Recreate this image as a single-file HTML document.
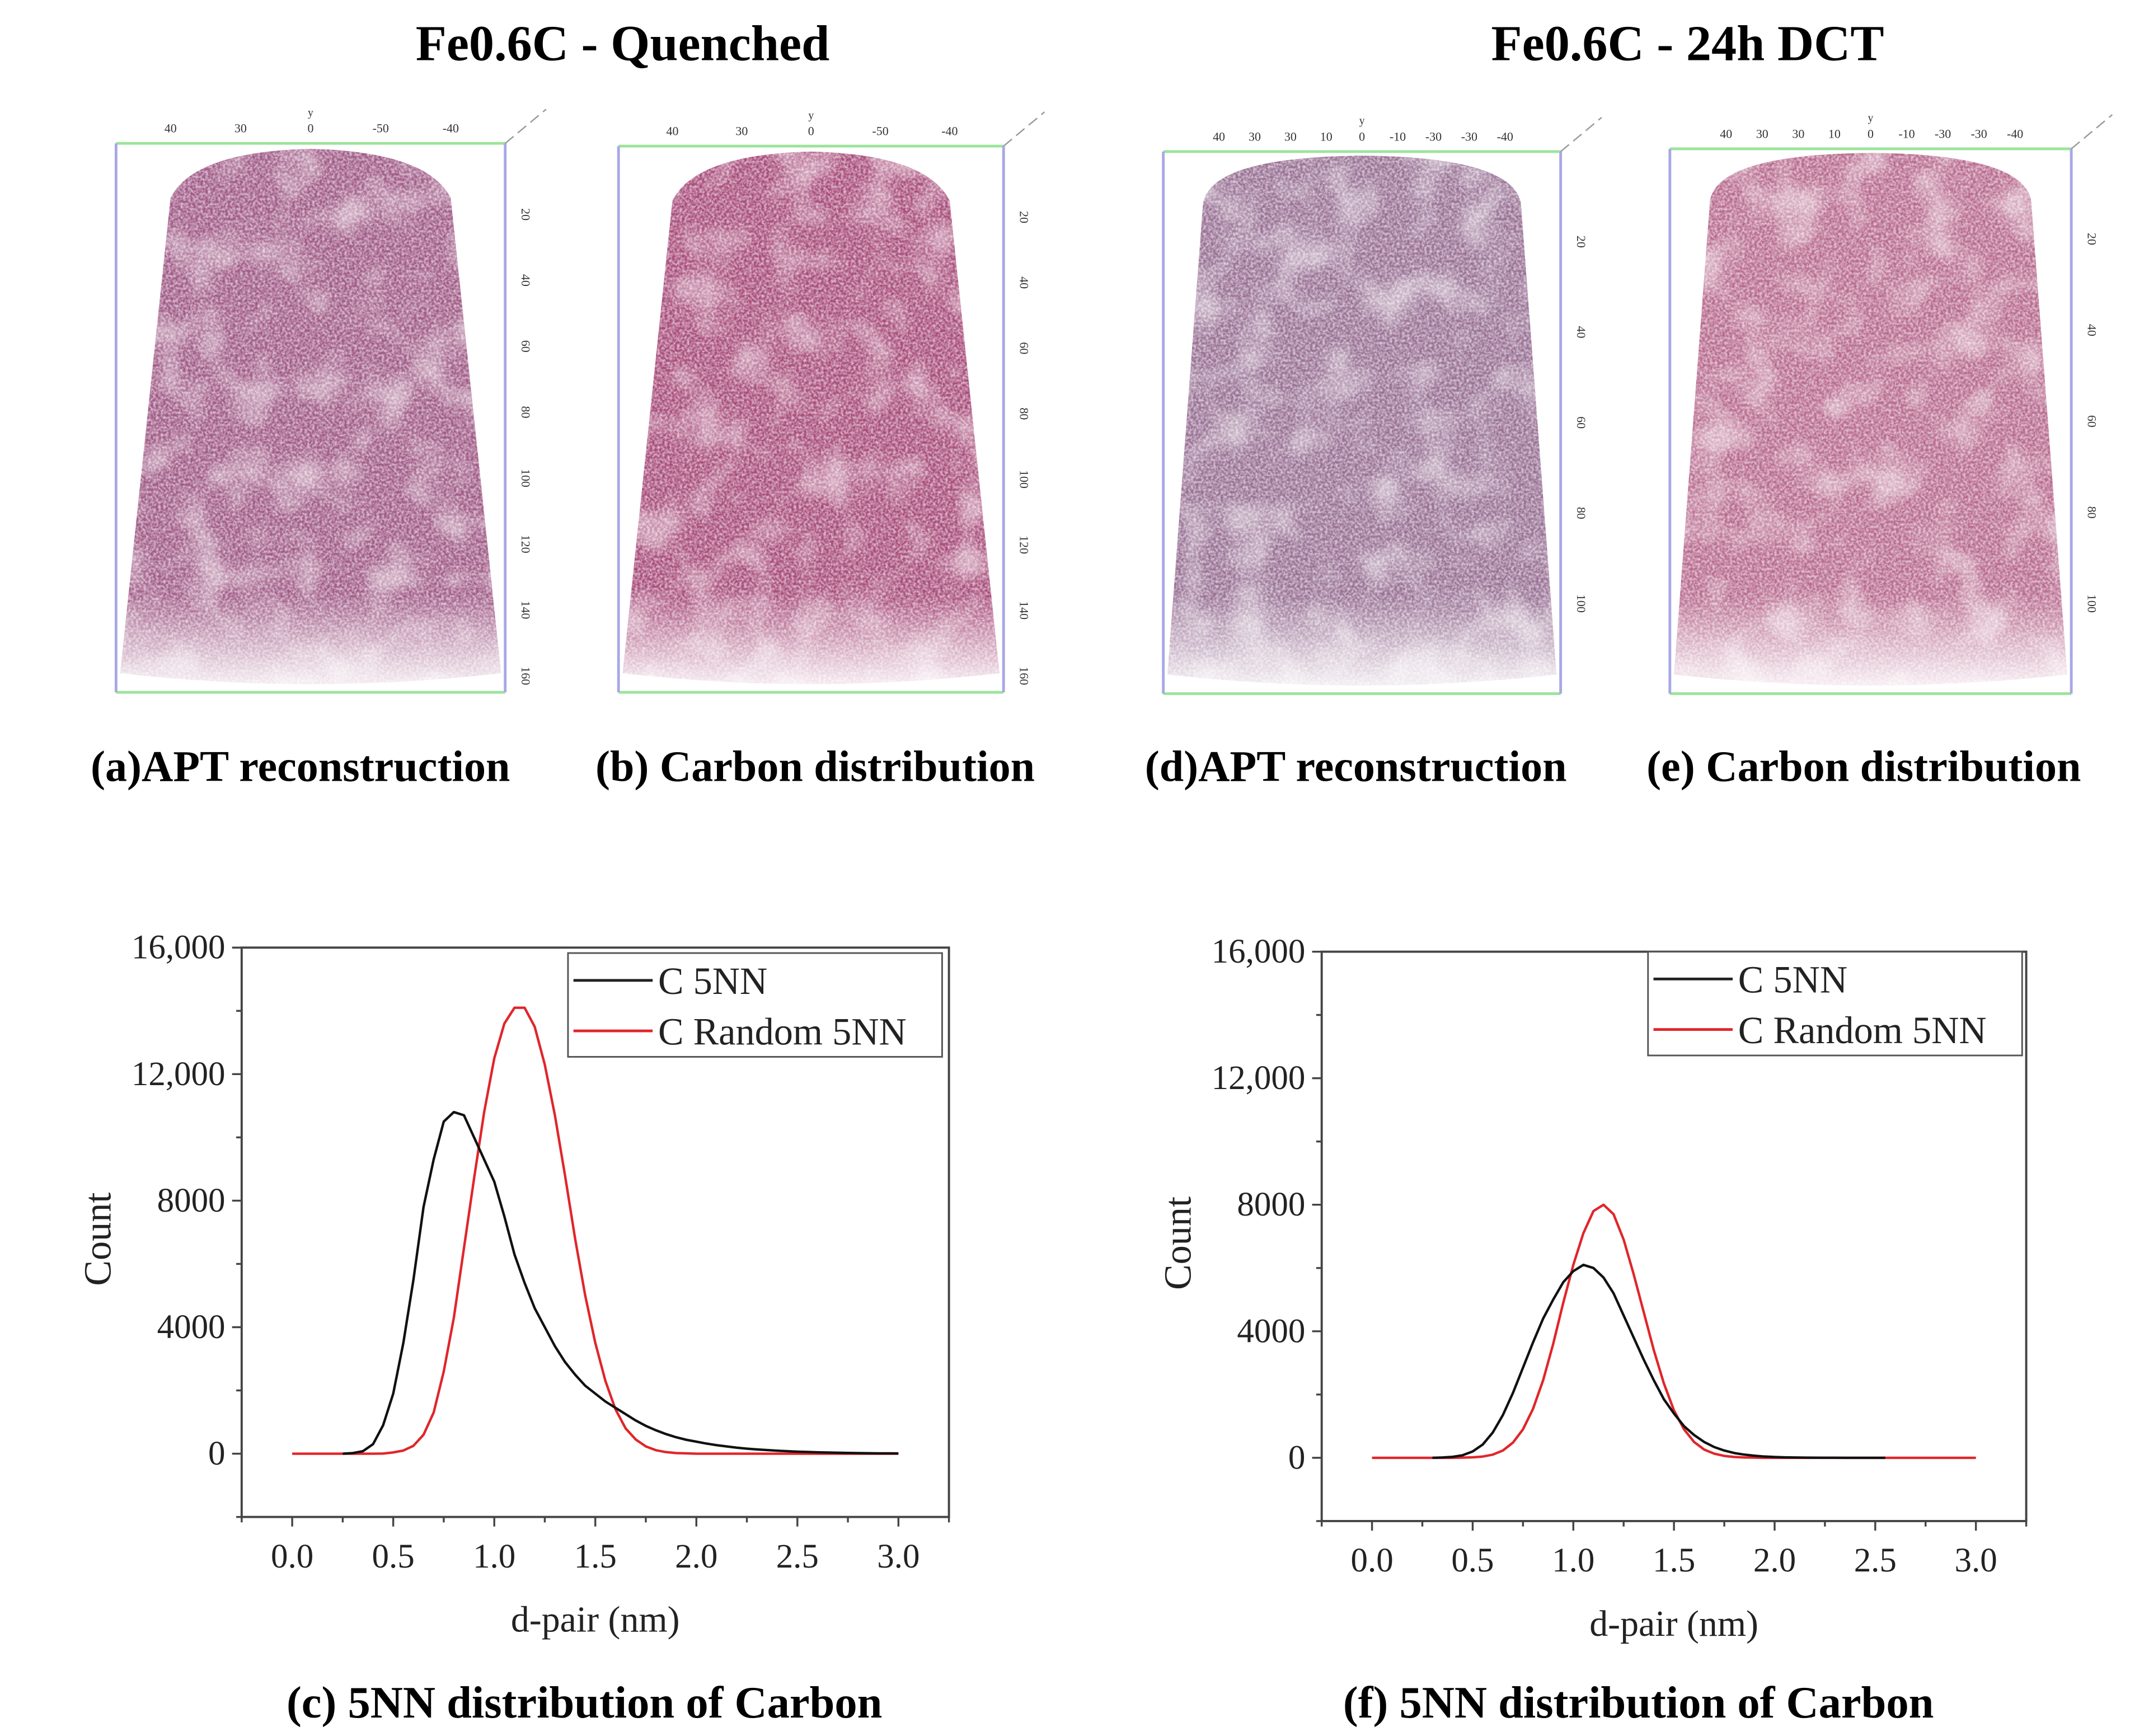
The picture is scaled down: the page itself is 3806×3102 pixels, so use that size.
<!DOCTYPE html>
<html><head><meta charset="utf-8">
<style>
html,body{margin:0;padding:0;background:#fff;}
svg{display:block;}
text{font-family:"Liberation Serif",serif;}
</style></head>
<body>
<svg id="root" xmlns="http://www.w3.org/2000/svg" width="3806" height="3102" viewBox="0 0 1560 1271.4">
<defs>
  <filter id="speck" x="0" y="0" width="100%" height="100%">
    <feTurbulence type="fractalNoise" baseFrequency="0.55" numOctaves="2" seed="3" result="n"/>
    <feColorMatrix in="n" type="matrix" values="0 0 0 0 1  0 0 0 0 1  0 0 0 0 1  0 0 0 -2.2 1.5" result="w"/>
    <feComposite in="w" in2="SourceGraphic" operator="in"/>
  </filter>
  <filter id="blotch" x="0" y="0" width="100%" height="100%">
    <feTurbulence type="fractalNoise" baseFrequency="0.03" numOctaves="2" seed="7" result="n"/>
    <feColorMatrix in="n" type="matrix" values="0 0 0 0 1  0 0 0 0 1  0 0 0 0 1  0 0 0 -3 1.6" result="w"/>
    <feComposite in="w" in2="SourceGraphic" operator="in"/>
  </filter>
  <linearGradient id="fadeA" x1="0" y1="0" x2="0" y2="1">
    <stop offset="0.82" stop-color="#fff" stop-opacity="0"/>
    <stop offset="0.98" stop-color="#fff" stop-opacity="0.85"/>
  </linearGradient>
</defs>

<g id="apt"></g>
<g id="charts"></g>

<text x="456" y="44" text-anchor="middle" font-size="37" font-weight="bold">Fe0.6C - Quenched</text>
<text x="1236" y="44" text-anchor="middle" font-size="37" font-weight="bold">Fe0.6C - 24h DCT</text>

<text x="220" y="572" text-anchor="middle" font-size="32" font-weight="bold">(a)APT reconstruction</text>
<text x="597" y="572" text-anchor="middle" font-size="32" font-weight="bold">(b) Carbon distribution</text>
<text x="993" y="572" text-anchor="middle" font-size="32" font-weight="bold">(d)APT reconstruction</text>
<text x="1365" y="572" text-anchor="middle" font-size="32" font-weight="bold">(e) Carbon distribution</text>
<text x="428" y="1258" text-anchor="middle" font-size="33" font-weight="bold">(c)  5NN distribution of Carbon</text>
<text x="1200" y="1258" text-anchor="middle" font-size="33" font-weight="bold">(f)  5NN distribution of Carbon</text>
</svg>

<script>
// ---------- Chart data ----------
const xStep = 0.05;
const cBlackStart = 0.25;
const cBlack = [0,20,80,300,900,1900,3500,5500,7800,9300,10500,10800,10700,10000,9300,8600,7500,6300,5400,4600,4000,3400,2900,2500,2150,1900,1650,1450,1250,1050,880,740,620,520,440,380,320,270,230,190,160,135,115,95,80,65,55,45,38,30,25,20,15,12,10,8];
const cRedStart = 0.0;
const cRed = [0,0,0,0,0,0,0,0,0,5,40,100,250,600,1300,2600,4300,6500,8700,10800,12500,13600,14100,14100,13500,12300,10700,8800,6800,5000,3500,2300,1400,800,450,230,110,50,20,10,0,0,0,0,0,0,0,0,0,0,0,0,0,0,0,0,0,0,0,0,0];
const fBlackStart = 0.3;
const fBlack = [0,10,30,80,200,420,800,1350,2050,2850,3650,4400,5000,5550,5900,6100,6000,5700,5200,4500,3800,3100,2450,1850,1400,1000,720,500,340,230,150,100,65,40,25,15,10,5,3,2,1,0,0,0,0,0];
const fRedStart = 0.0;
const fRed = [0,0,0,0,0,0,0,0,0,5,15,40,100,230,480,900,1550,2450,3600,4900,6100,7100,7800,8000,7700,6900,5800,4600,3400,2350,1500,900,500,260,130,60,25,10,5,0,0,0,0,0,0,0,0,0,0,0,0,0,0,0,0,0,0,0,0,0,0];
const yTicks = [0,4000,8000,12000,16000];
const yTickLabels = ["0","4000","8000","12,000","16,000"];
const xTicks = [0,0.5,1,1.5,2,2.5,3];
const xTickLabels = ["0.0","0.5","1.0","1.5","2.0","2.5","3.0"];
const legendLabels = ["C 5NN","C Random 5NN"];

const NS = "http://www.w3.org/2000/svg";
function mk(tag, attrs, parent){ const e=document.createElementNS(NS,tag); for(const k in attrs) e.setAttribute(k,attrs[k]); parent.appendChild(e); return e; }

function drawChart(g, L, R, T, B, series, legend, id){
  const xmin=-0.25, xmax=3.25, ymin=-2000, ymax=16000;
  const X = v => L + (v - xmin)/(xmax - xmin)*(R - L);
  const Y = v => B - (v - ymin)/(ymax - ymin)*(B - T);
  const frame = mk('rect',{x:L,y:T,width:R-L,height:B-T,fill:'none',stroke:'#444','stroke-width':1.6},g);
  
  
  for(let v=-2000; v<=16000; v+=2000){
    const major = yTicks.includes(v);
    const t = mk('line',{x1:L,x2:L-(major?7:4),y1:Y(v),y2:Y(v),stroke:'#444','stroke-width':1.4},g);
    
    
  }
  yTicks.forEach((v,i)=>{
    const t = mk('text',{x:L-12,y:Y(v)+8,'text-anchor':'end','font-size':25,fill:'#222'},g);
    t.textContent = yTickLabels[i];
    
    
  });
  for(let v=-0.25; v<=3.26; v+=0.25){
    const major = Math.abs(v*2-Math.round(v*2))<1e-6 && v>=0;
    const t = mk('line',{x1:X(v),x2:X(v),y1:B,y2:B+(major?7:4),stroke:'#444','stroke-width':1.4},g);
    
    
  }
  xTicks.forEach((v,i)=>{
    const t = mk('text',{x:X(v),y:B+37,'text-anchor':'middle','font-size':25,fill:'#222'},g);
    t.textContent = xTickLabels[i];
    
    
  });
  const xt = mk('text',{x:(L+R)/2,y:B+84,'text-anchor':'middle','font-size':27,fill:'#222'},g);
  xt.textContent='d-pair (nm)';
  
  
  const yt = mk('text',{x:0,y:0,'text-anchor':'middle','font-size':28,fill:'#222',transform:`translate(${L-96},${(T+B)/2+5}) rotate(-90)`},g);
  yt.textContent='Count';
  
  
  series.forEach(s=>{
    const pts = s.vals.map((v,i)=>X(s.start+i*xStep).toFixed(2)+','+Y(v).toFixed(2)).join(' ');
    const p = mk('polyline',{points:pts,fill:'none',stroke:s.color,'stroke-width':1.8,'stroke-linejoin':'round'},g);
    
    
  });
  const lg = mk('g',{},g);
  
  
  const lb = mk('rect',{x:legend.x,y:legend.y,width:legend.w,height:76,fill:'#fff',stroke:'#555','stroke-width':1.2},lg);
  
  
  ['#222','#e0262a'].forEach((c,i)=>{
    const yy = legend.y+20+i*37;
    const ln = mk('line',{x1:legend.x+4,x2:legend.x+62,y1:yy,y2:yy,stroke:c,'stroke-width':2},lg);
    
    
    const tx = mk('text',{x:legend.x+66,y:yy+10,'font-size':28,fill:'#222'},lg);
    tx.textContent = legendLabels[i];
    
    
  });
}
const charts = document.getElementById('charts');
const gc = mk('g',{},charts);


drawChart(gc,177,695,694,1111,[
  {name:'c-random',vals:cRed,start:cRedStart,color:'#e0262a'},
  {name:'c-5nn',vals:cBlack,start:cBlackStart,color:'#111'}],
  {x:416,y:698,w:274},'chart-c');
const gf = mk('g',{},charts);


drawChart(gf,968,1484,697,1114,[
  {name:'c-random',vals:fRed,start:fRedStart,color:'#e0262a'},
  {name:'c-5nn',vals:fBlack,start:fBlackStart,color:'#111'}],
  {x:1207,y:697,w:274},'chart-f');

// ---------- APT panels ----------
const apt = document.getElementById('apt');
const panels = [
  {id:'a',L:85,R:370,T:105,B:507,base:'#a05a86',shape:'q',topLabels:['40','30','0','-50','-40'],side:['20','40','60','80','100','120','140','160']},
  {id:'b',L:453,R:735,T:107,B:507,base:'#a84c7a',shape:'q',topLabels:['40','30','0','-50','-40'],side:['20','40','60','80','100','120','140','160']},
  {id:'d',L:852,R:1143,T:111,B:508,base:'#987094',shape:'d',topLabels:['40','30','30','10','0','-10','-30','-30','-40'],side:['20','40','60','80','100']},
  {id:'e',L:1223,R:1517,T:109,B:508,base:'#b86a8e',shape:'d',topLabels:['40','30','30','10','0','-10','-30','-30','-40'],side:['20','40','60','80','100']}
];
panels.forEach(p=>{
  const g = mk('g',{},apt);
  
  
  const w = p.R-p.L;
  let d;
  if(p.shape==='q'){
    d = `M${p.L+0.14*w},${p.T+40} Q${p.L+0.2*w},${p.T+6} ${p.L+0.5*w},${p.T+4} Q${p.L+0.8*w},${p.T+6} ${p.L+0.86*w},${p.T+40} L${p.R-3},${p.B-14} Q${p.L+0.5*w},${p.B+2} ${p.L+3},${p.B-14} Z`;
  } else {
    d = `M${p.L+0.1*w},${p.T+38} Q${p.L+0.12*w},${p.T+4} ${p.L+0.5*w},${p.T+3} Q${p.L+0.88*w},${p.T+4} ${p.L+0.9*w},${p.T+38} L${p.R-3},${p.B-14} Q${p.L+0.5*w},${p.B+2} ${p.L+3},${p.B-14} Z`;
  }
  const s = mk('path',{d:d,fill:p.base},g);
  
  
  const bl = mk('path',{d:d,fill:'#000',filter:'url(#blotch)',opacity:0.45},g);
  
  
  const sp = mk('path',{d:d,fill:'#000',filter:'url(#speck)',opacity:0.6},g);
  
  
  const fd = mk('rect',{x:p.L,y:p.T,width:w,height:p.B-p.T,fill:'url(#fadeA)'},g);
  
  
  const lines = [
    ['box-top',p.L,p.T,p.R,p.T,'#9be39b'],['box-bottom',p.L,p.B,p.R,p.B,'#9be39b'],
    ['box-left',p.L,p.T,p.L,p.B,'#a8a8e6'],['box-right',p.R,p.T,p.R,p.B,'#a8a8e6']];
  lines.forEach(l=>{
    const e = mk('line',{x1:l[1],y1:l[2],x2:l[3],y2:l[4],stroke:l[5],'stroke-width':2},g);
    
    
  });
  const dg = mk('line',{x1:p.R,y1:p.T,x2:p.R+30,y2:p.T-25,stroke:'#999','stroke-width':1,'stroke-dasharray':'8,4'},g);
  
  
  const n = p.topLabels.length;
  p.topLabels.forEach((t,i)=>{
    const x = p.L+0.14*w + i*(0.72*w)/(n-1);
    const e = mk('text',{x:x,y:p.T-8,'text-anchor':'middle','font-size':9,'font-family':'Liberation Sans',fill:'#333'},g);
    e.textContent=t;
    
    
  });
  const ym = mk('text',{x:p.L+0.5*w,y:p.T-20,'text-anchor':'middle','font-size':8,'font-family':'Liberation Sans',fill:'#333'},g);
  ym.textContent='y';
  
  
  const m = p.side.length;
  p.side.forEach((t,i)=>{
    const y = p.shape==='q' ? p.T+52+i*(p.B-p.T-64)/(m-1) : p.T+66+i*(p.B-p.T-132)/(m-1);
    const e = mk('text',{x:0,y:0,'text-anchor':'middle','font-size':9,'font-family':'Liberation Sans',fill:'#333',transform:`translate(${p.R+12},${y}) rotate(90)`},g);
    e.textContent=t;
    
    
  });
});
</script>
</body></html>
